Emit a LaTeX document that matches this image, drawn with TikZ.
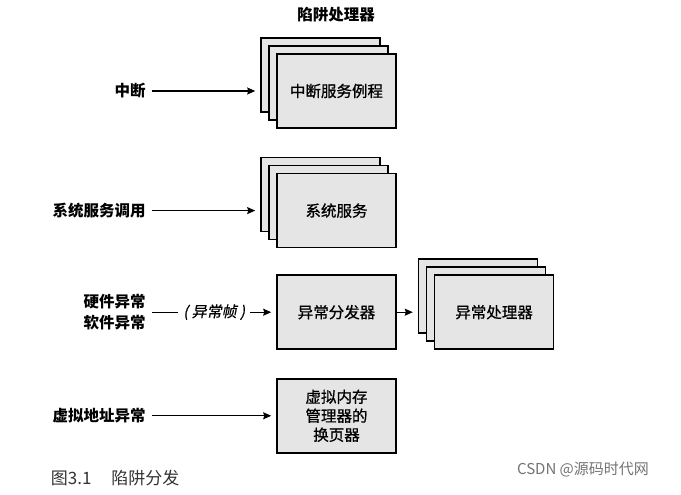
\documentclass[tikz,border=0pt]{standalone}
\usepackage{fontspec}
\setmainfont{Noto Sans CJK SC}
\newfontfamily\slantcjk[FakeSlant=0.2,FakeBold=0.6]{Noto Sans CJK SC}
\newfontfamily\boxcjk[FakeBold=0.8]{Noto Sans CJK SC}
\usepackage{tikz}
\usetikzlibrary{arrows.meta,shadows}
\usetikzlibrary{positioning}

\begin{document}
\begin{tikzpicture}[x=1pt,y=-1pt,->,>={Stealth[length=8pt,width=7pt,inset=1pt]},shorten >=5pt,line width=1.1pt,
                    every text node part/.style={align=center}]
  \tikzstyle{box}=[draw=black,line width=1.6pt,fill=black!10,minimum width=119pt,minimum height=74pt,
                   font=\boxcjk\fontsize{15.5}{19}\selectfont]
  \tikzstyle{stack}=[box,
                     copy shadow={shadow xshift=-16pt,shadow yshift=16pt,draw=black,fill=black!10,line width=1.6pt},
                     copy shadow={shadow xshift=-8pt,shadow yshift=8pt,draw=black,fill=black!10,line width=1.6pt}]
  \tikzstyle{src}=[inner xsep=6pt,inner ysep=2pt,font=\fontsize{15.5}{21}\selectfont\bfseries]

    \useasboundingbox (0,0) rectangle (681,495);

    \node[font=\fontsize{15.5}{19}\selectfont\bfseries] (trap) at (336,15) {陷阱处理器};

    \node[stack]        (isr) at (336.5,91)        {中断服务例程};
    \node[stack]        (svc) [below = 44pt of isr] {系统服务};
    \node[box]          (disp) [below = 26pt of svc] {异常分发器};
    \node[stack]        (hdl) [right = 37pt of disp] {异常处理器};
    \node[box]          (pager) [below = 28pt of disp] {虚拟内存\\管理器的\\换页器};

    \node[src]          (intr) [left = 124pt of isr]   {中断};
    \node[src]          (call) [left = 124pt of svc]   {系统服务调用};
    \node[src]          (exc) [left = 124pt of disp]   {硬件异常\\软件异常};
    \node[src]          (vaddr) [left = 124pt of pager] {虚拟地址异常};

    \coordinate (isrin) at ([xshift=-16pt]isr.west);
    \coordinate (svcin) at ([xshift=-16pt]svc.west);
    \coordinate (hdlin) at ([xshift=-16pt]hdl.west);

    \node[anchor=west,text=black!80,font=\fontsize{17}{17}\selectfont] (cap) at (47,478) {图3.1\hspace{20pt}陷阱分发};
    \node[text=black!55,font=\fontsize{15}{15}\selectfont] (wm) at (583,470) {CSDN @源码时代网};

  \path (intr) edge              (isrin)
        (call) edge              (svcin)
        (exc) edge              node[fill=white,inner xsep=5pt,font=\slantcjk\fontsize{15}{15}\selectfont] {( 异常帧 )} (disp)
        (disp) edge              (hdlin)
        (vaddr) edge              (pager);

\end{tikzpicture}
\end{document}
